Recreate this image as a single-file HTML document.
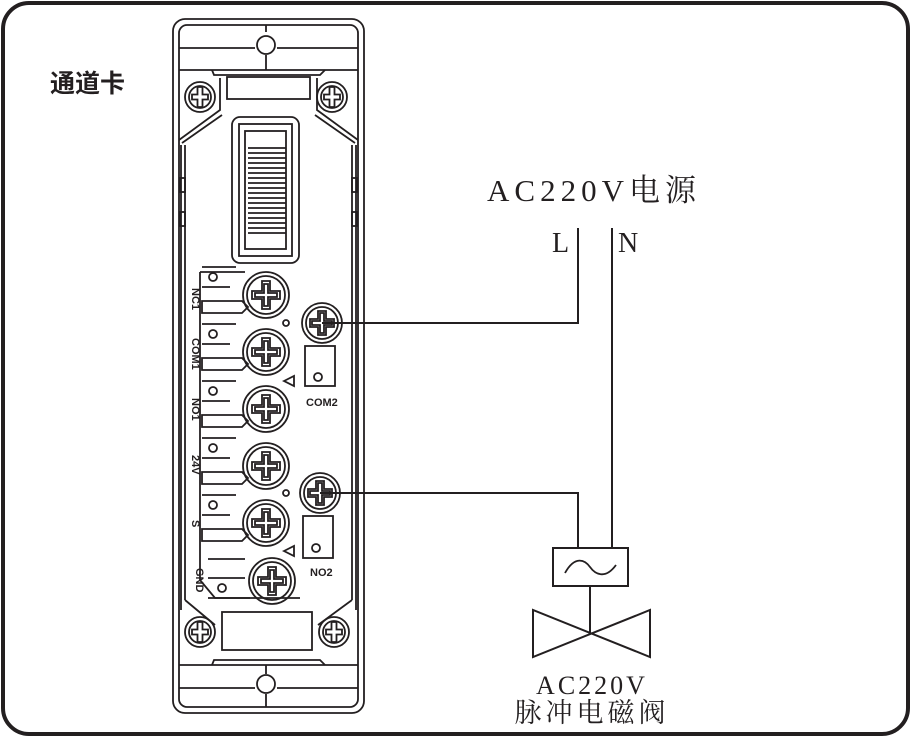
<!DOCTYPE html>
<html><head><meta charset="utf-8"><style>
html,body{margin:0;padding:0;background:#fff;}
svg{display:block}
.s{fill:none;stroke:#231f20;stroke-width:1.8}
.t{font-family:"Liberation Serif","Noto Serif CJK SC",serif;fill:#231f20}
</style></head><body>
<svg width="911" height="737" viewBox="0 0 911 737" xmlns="http://www.w3.org/2000/svg">
<defs>
<g id="bs"><circle r="23" class="s"/><circle r="19" class="s"/>
<path class="s" d="M-4,-14 H4 V-4 H14 V4 H4 V14 H-4 V4 H-14 V-4 H-4 Z"/>
<path class="s" d="M-2,-11 H2 V-2 H11 V2 H2 V11 H-2 V2 H-11 V-2 H-2 Z"/></g>
<g id="cs"><circle r="15" class="s"/><circle r="11" class="s"/>
<path class="s" d="M-2.5,-10 H2.5 V-2.5 H8 V2.5 H2.5 V10 H-2.5 V2.5 H-8 V-2.5 H-2.5 Z"/></g>
<g id="ss"><circle r="20" class="s"/><circle r="16" class="s"/>
<path class="s" d="M-4,-12 H4 V-4 H12 V4 H4 V12 H-4 V4 H-12 V-4 H-4 Z"/>
<path class="s" d="M-2,-10 H2 V-2 H10 V2 H2 V10 H-2 V2 H-10 V-2 H-2 Z"/></g>
<g id="tab"><path class="s" d="M-64,-28 H-30 M-64,-8 H-36"/><circle cx="-53" cy="-18" r="4" class="s"/>
<path class="s" d="M-64,6 H-24 L-18,12 L-24,18 H-64 Z"/></g>
</defs>
<rect x="3" y="3" width="905" height="731" rx="26" fill="none" stroke="#231f20" stroke-width="4"/>
<text x="50" y="92" font-family="Liberation Sans,'Noto Sans CJK SC',sans-serif" font-size="25" font-weight="bold" fill="#231f20">通道卡</text>
<rect x="173" y="19" width="191" height="694" rx="12" class="s"/>
<rect x="179" y="25" width="179" height="682" rx="8" class="s"/>
<path class="s" d="M179,48 H255 M277,48 H358 M179,70 H358 M179,665 H358 M179,688 H255 M277,688 H358"/>
<circle cx="266" cy="45" r="9" class="s"/><path class="s" d="M266,25 V32 M266,55 V70"/>
<circle cx="266" cy="684" r="9" class="s"/><path class="s" d="M266,665 V674 M266,694 V707"/>
<path class="s" d="M212,70 L214,75 H320 L325,70"/>
<path class="s" d="M212,665 L214,660 H320 L325,665"/>
<rect x="227" y="77" width="83" height="22" class="s"/>
<path class="s" d="M179,140 L220,110 V78 M358,140 L317,110 V78"/>
<path class="s" d="M182,143 L222,115 M355,143 L315,115"/>
<path class="s" d="M185,145 V600 M352,145 V600 M181,145 V610 M356,145 V610"/>
<path class="s" d="M185,600 L215,625 M352,600 L318,625"/>
<rect x="222" y="612" width="90" height="38" class="s"/>
<rect x="180" y="178" width="5" height="14" class="s"/><rect x="180" y="212" width="5" height="14" class="s"/>
<rect x="352" y="178" width="5" height="14" class="s"/><rect x="352" y="212" width="5" height="14" class="s"/>
<use href="#cs" x="200" y="97"/><use href="#cs" x="332" y="97"/>
<use href="#cs" x="200" y="632"/><use href="#cs" x="334" y="632"/>
<rect x="232" y="117" width="67" height="146" rx="8" class="s"/>
<rect x="239" y="124" width="53" height="132" class="s"/>
<rect x="245" y="131" width="41" height="118" class="s"/>
<path class="s" d="M248,148 H286 M248,153 H286 M248,158 H286 M248,163 H286 M248,168 H286 M248,173 H286 M248,178 H286 M248,183 H286 M248,188 H286 M248,193 H286 M248,198 H286 M248,203 H286 M248,208 H286 M248,213 H286 M248,218 H286 M248,223 H286 M248,228 H286 M248,233 H286"/>
<path class="s" d="M200,272 H245 M200,272 V580 L215,598 H300"/>
<use href="#bs" x="266" y="295"/><use href="#tab" x="266" y="295"/>
<use href="#bs" x="266" y="352"/><use href="#tab" x="266" y="352"/>
<use href="#bs" x="266" y="409"/><use href="#tab" x="266" y="409"/>
<use href="#bs" x="266" y="466"/><use href="#tab" x="266" y="466"/>
<use href="#bs" x="266" y="523"/><use href="#tab" x="266" y="523"/>
<use href="#bs" x="272" y="581"/>
<path class="s" d="M208,559 H245 M208,578 H245 M208,598 H250"/><circle cx="222" cy="588" r="4" class="s"/>
<use href="#ss" x="322" y="323"/>
<rect x="305" y="346" width="30" height="40" class="s"/><circle cx="318" cy="377" r="4" class="s"/>
<use href="#ss" x="320" y="493"/>
<rect x="303" y="516" width="30" height="42" class="s"/><circle cx="316" cy="548" r="4" class="s"/>
<circle cx="286" cy="323" r="3" class="s"/><circle cx="286" cy="493" r="3" class="s"/>
<path class="s" d="M284,381 L294,376 V386 Z M284,551 L294,546 V556 Z"/>
<g font-family="Liberation Sans,sans-serif" font-size="11" font-weight="bold" fill="#231f20">
<text transform="translate(192,288) rotate(90)">NC1</text>
<text transform="translate(192,338) rotate(90)">COM1</text>
<text transform="translate(192,398) rotate(90)">NO1</text>
<text transform="translate(192,455) rotate(90)">24V</text>
<text transform="translate(192,520) rotate(90)">S</text>
<text transform="translate(196,568) rotate(90)">GND</text>
<text x="306" y="406">COM2</text>
<text x="310" y="576">NO2</text>
</g>
<path fill="none" stroke="#231f20" stroke-width="2" d="M322,323 H578 V228 M612,228 V548 M320,493 H578 V548 M590,586 V633"/>
<rect x="553" y="548" width="75" height="38" fill="none" stroke="#231f20" stroke-width="2"/>
<path fill="none" stroke="#231f20" stroke-width="1.8" d="M565,573 C575,555 585,560 590,567 C595,574 605,580 616,565"/>
<path fill="none" stroke="#231f20" stroke-width="2" d="M533,610 V657 L650,610 V657 Z"/>
<text class="t" x="487" y="201" font-size="31" letter-spacing="5">AC220V电源</text>
<text class="t" x="552" y="252" font-size="28">L</text>
<text class="t" x="618" y="252" font-size="28">N</text>
<text class="t" x="592" y="694" font-size="26" text-anchor="middle" letter-spacing="3">AC220V</text>
<text class="t" x="592" y="722" font-size="27" text-anchor="middle" letter-spacing="4">脉冲电磁阀</text>
</svg>
</body></html>
